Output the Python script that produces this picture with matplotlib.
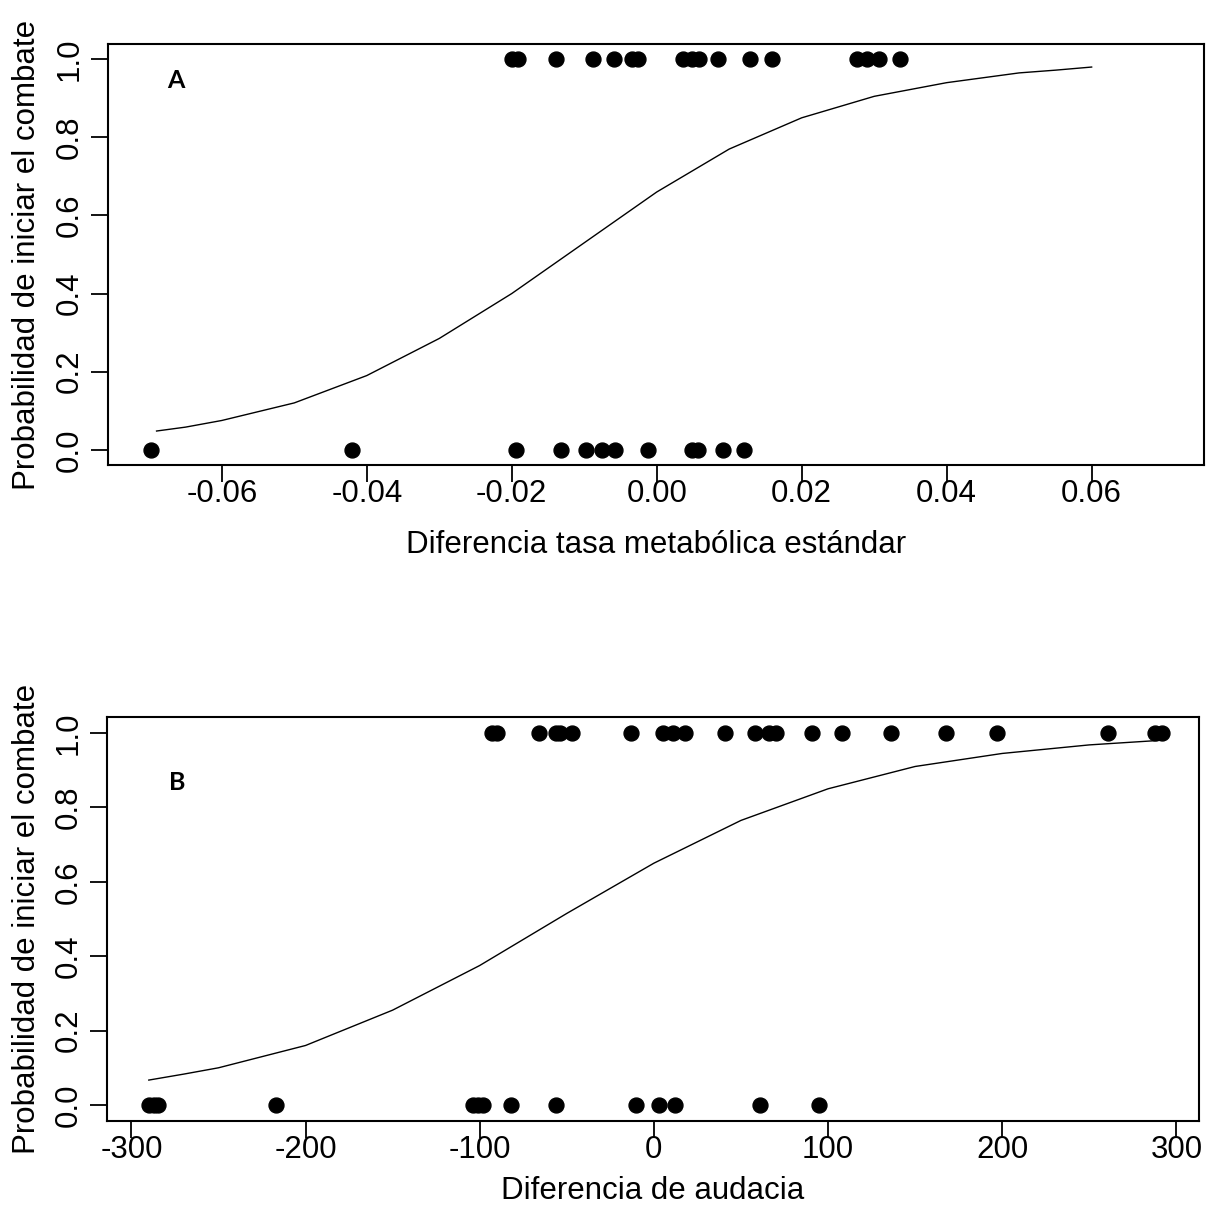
import matplotlib
matplotlib.use("Agg")
import matplotlib.pyplot as plt

plt.rcParams['font.family'] = ['Liberation Sans', 'DejaVu Sans']

# Panel A: diferencia tasa metabolica estandar
a_x_1 = [-0.0200, -0.0192, -0.0139, -0.0088, -0.0059, -0.0034, -0.0026, 0.0036,
         0.0048, 0.0059, 0.0084, 0.0128, 0.0159, 0.0276, 0.0290, 0.0306, 0.0335]
a_x_0 = [-0.0698, -0.0421, -0.0194, -0.0132, -0.0097, -0.0076, -0.0057, -0.0012,
         0.0048, 0.0057, 0.0091, 0.0121]
a_curve_x = [-0.069, -0.065, -0.06, -0.05, -0.04, -0.03, -0.02, -0.01, 0.0,
             0.01, 0.02, 0.03, 0.04, 0.05, 0.055, 0.06]
a_curve_p = [0.048, 0.058, 0.075, 0.12, 0.19, 0.285, 0.40, 0.53, 0.66,
             0.77, 0.85, 0.905, 0.94, 0.965, 0.972, 0.98]
a_xticks = [-0.06, -0.04, -0.02, 0.00, 0.02, 0.04, 0.06]

# Panel B: diferencia de audacia
b_x_1 = [-93, -90, -66, -56, -54, -47, -13, 5, 11, 18, 41, 58, 66, 70, 91, 108,
         136, 168, 197, 261, 288, 292]
b_x_0 = [-290, -287, -285, -217, -104, -101, -98, -82, -56, -10, 3, 12, 61, 95]
b_curve_x = [-290, -270, -250, -200, -150, -100, -50, 0, 50, 100, 150, 200, 250, 290]
b_curve_p = [0.067, 0.083, 0.10, 0.16, 0.255, 0.375, 0.515, 0.65, 0.765, 0.85,
             0.91, 0.945, 0.968, 0.98]
b_xticks = [-300, -200, -100, 0, 100, 200, 300]

yticks = [0.0, 0.2, 0.4, 0.6, 0.8, 1.0]
ylab = "Probabilidad de iniciar el combate"

W, H = 1208, 1211
fig = plt.figure(figsize=(W / 100, H / 100), dpi=100)


def panel(rect, x1, x0, cx, cp, xticks, xlim, ylim, xlabel, letter, xlab_y, letter_xy):
    ax = fig.add_axes(rect)
    ax.scatter(x1, [1] * len(x1), s=115, color='black', zorder=3)
    ax.scatter(x0, [0] * len(x0), s=115, color='black', zorder=3)
    ax.plot(cx, cp, color='black', lw=1.0)
    ax.set_xlim(xlim)
    ax.set_ylim(ylim)
    ax.set_xticks(xticks)
    ax.set_xticklabels([f"{t:.2f}" if isinstance(t, float) else str(t) for t in xticks])
    ax.set_yticks(yticks)
    ax.set_yticklabels([f"{t:.1f}" for t in yticks], rotation=90, va='center')
    ax.tick_params(labelsize=22.5, length=12, width=1.3)
    ax.tick_params(axis='x', pad=-2)
    ax.tick_params(axis='y', pad=5)
    for sp in ax.spines.values():
        sp.set_linewidth(1.5)
    ax.set_xlabel(xlabel, fontsize=22.5, va='center')
    ax.xaxis.set_label_coords(0.5, xlab_y)
    ax.set_ylabel(ylab, fontsize=22.5, va='center')
    ax.yaxis.set_label_coords(-(rect[0] * W - 27) / (rect[2] * W), 0.5)
    ax.text(letter_xy[0], letter_xy[1], letter, transform=ax.transAxes,
            fontsize=18, fontweight='bold', family='Lato', ha='center', va='center')
    return ax


panel([108 / W, 1 - 465 / H, 1096 / W, 421 / H], a_x_1, a_x_0, a_curve_x, a_curve_p,
      a_xticks, (-0.0757, 0.0755), (-0.039, 1.039),
      "Diferencia tasa metabólica estándar", "A", -80 / 421,
      ((176 - 108) / 1096, (465 - 80) / 421))

panel([107 / W, 1 - 1121 / H, 1092 / W, 404 / H], b_x_1, b_x_0, b_curve_x, b_curve_p,
      b_xticks, (-314, 313), (-0.043, 1.043),
      "Diferencia de audacia", "B", -70 / 404,
      ((177 - 107) / 1092, (1121 - 782) / 404))

fig.savefig("out.png", dpi=100)
